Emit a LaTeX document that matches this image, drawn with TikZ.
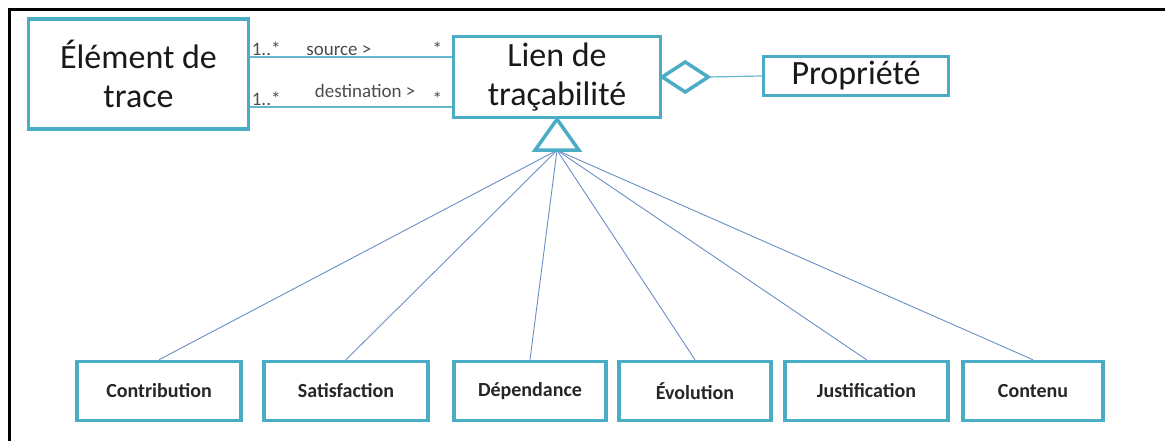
\documentclass[tikz,border=0pt]{standalone}
\usepackage{fontspec}
\setmainfont{Carlito}
\usetikzlibrary{positioning,calc}

\definecolor{aqua}{HTML}{4BACC6}
\definecolor{genblue}{HTML}{6A8FC4}

\begin{document}
\begin{tikzpicture}[
    x=1pt, y=-1pt,
    bigclass/.style={rectangle, draw=aqua, line width=3.5pt, fill=white, align=center, inner sep=0pt, font=\fontsize{34}{39}\selectfont, text=black!90},
    subclass/.style={rectangle, draw=aqua, line width=3.5pt, fill=white, align=center, inner sep=0pt, minimum height=59pt, font=\bfseries\fontsize{20}{22}\selectfont, text=black!85},
    assoc/.style={draw=aqua!85, line width=1.2pt},
    genline/.style={draw=genblue, line width=0.9pt},
    mult/.style={font=\fontsize{19}{21}\selectfont, text=black!70, inner sep=1pt}
]
\useasboundingbox (0,0) rectangle (1165,441);

% Frame
\draw[line width=3pt] (1165,10) -- (9,10) -- (9,441);

% Top classes
\node[bigclass, minimum width=220pt, minimum height=110pt] (elem) at (138.5,74) {Élément de\\trace};
\node[bigclass, minimum width=207pt, minimum height=81pt] (lien) at (557,77) {Lien de\\traçabilité};
\node[bigclass, minimum width=185pt, minimum height=39pt] (prop) at (856,76) {Propriété};

% Associations
\draw[assoc] ([yshift=20pt]lien.west -| elem.east) -- ([yshift=20pt]lien.west)
    node[mult, above right, pos=0] {1..*}
    node[mult, above, pos=0.44] {source >}
    node[mult, above left, pos=1, xshift=-8pt] {*};
\draw[assoc] ([yshift=-30pt]lien.west -| elem.east) -- ([yshift=-30pt]lien.west)
    node[mult, above right, pos=0] {1..*}
    node[mult, above, pos=0.57, yshift=8pt] {destination >}
    node[mult, above left, pos=1, xshift=-8pt] {*};

% Aggregation
\draw[aqua, line width=3.5pt, line join=miter, fill=white] (lien.east) -- ++(23,-15) -- ++(23,15) -- ++(-23,15) -- cycle;
\coordinate (diamtip) at ($(lien.east)+(46,0)$);
\draw[assoc] (diamtip) -- (prop.west);

% Sub-classes
\node[subclass, minimum width=164pt] (contrib) at (159,391) {Contribution};
\node[subclass, minimum width=164pt] (satis) at (346,391) {Satisfaction};
\node[subclass, minimum width=152pt] (dep) at (530,391) {Dépendance};
\node[subclass, minimum width=152pt] (evol) at (695,391) {Évolution};
\node[subclass, minimum width=163pt] (justif) at (866.5,391) {Justification};
\node[subclass, minimum width=140pt] (contenu) at (1033,391) {Contenu};

% Generalization
\coordinate (gen) at ($(lien.south)+(0,31)$);
\foreach \c in {contrib, satis, dep, evol, justif, contenu}
    \draw[genline] (gen) -- (\c.north);
\draw[aqua, line width=3.5pt, line join=miter, fill=white] (lien.south) -- ++(22,31) -- ++(-44,0) -- cycle;

\end{tikzpicture}
\end{document}
